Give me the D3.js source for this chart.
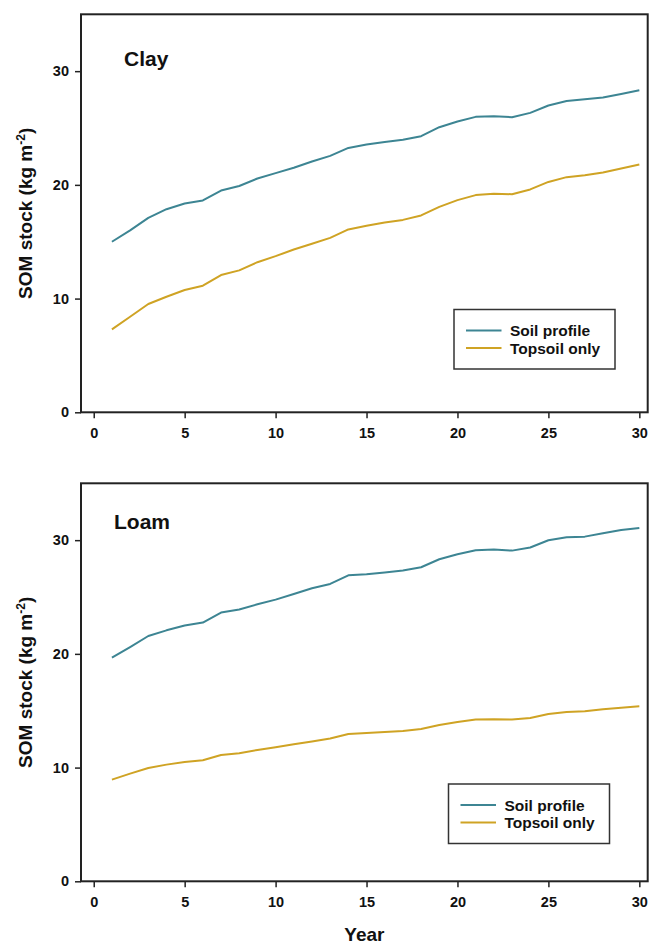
<!DOCTYPE html>
<html>
<head>
<meta charset="utf-8">
<script src="https://cdn.jsdelivr.net/npm/d3@7"></script>
<style>
  body { margin: 0; background: #fff; }
  svg text { font-family: Arial, "Liberation Sans", sans-serif; font-weight: bold; fill: #111; }
</style>
</head>
<body>
<div id="chart"></div>
<script>
// values, year 1..30
const years = d3.range(1, 31);
const claySoilProfile = [15.0, 16.0, 17.1, 17.86, 18.36, 18.63, 19.5, 19.9, 20.56, 21.03,
  21.5, 22.05, 22.55, 23.25, 23.55, 23.78, 23.96, 24.28, 25.07, 25.57,
  25.98, 26.04, 25.95, 26.33, 26.98, 27.38, 27.53, 27.68, 28.0, 28.32];
const clayTopsoil = [7.29, 8.4, 9.52, 10.16, 10.75, 11.13, 12.07, 12.48, 13.2, 13.73,
  14.32, 14.82, 15.34, 16.08, 16.4, 16.7, 16.92, 17.31, 18.07, 18.66,
  19.1, 19.21, 19.18, 19.6, 20.26, 20.68, 20.85, 21.09, 21.44, 21.79];
const loamSoilProfile = [19.67, 20.6, 21.57, 22.07, 22.5, 22.75, 23.63, 23.9, 24.36, 24.77,
  25.27, 25.77, 26.15, 26.91, 27.0, 27.15, 27.33, 27.62, 28.32, 28.76,
  29.11, 29.17, 29.08, 29.35, 29.99, 30.25, 30.31, 30.6, 30.9, 31.07];
const loamTopsoil = [8.94, 9.47, 9.97, 10.26, 10.49, 10.64, 11.11, 11.26, 11.55, 11.79,
  12.05, 12.29, 12.55, 12.96, 13.04, 13.13, 13.22, 13.39, 13.75, 14.01,
  14.22, 14.25, 14.22, 14.36, 14.71, 14.89, 14.95, 15.13, 15.27, 15.39];

const seriesNames = ["Soil profile", "Topsoil only"];
const seriesColors = ["#3d8593", "#cfa324"];
const xTicks = [0, 5, 10, 15, 20, 25, 30];
const yTicks = [0, 10, 20, 30];

const panels = [
  { title: "Clay", top: 14.3, series: [claySoilProfile, clayTopsoil], titleX: 124, titleY: 65.5, legX: 454, legY: 309.5 },
  { title: "Loam", top: 483.3, series: [loamSoilProfile, loamTopsoil], titleX: 114, titleY: 529, legX: 448.5, legY: 784 }
];

const W = 650, H = 946;
const plotLeft = 81, plotRight = 647.7, plotH = 398;

const svg = d3.select("#chart").append("svg")
  .attr("width", W)
  .attr("height", H);

// same x scale for both panels (0 sits a bit inside the frame)
const x = d3.scaleLinear().domain([-0.7, 30.46]).range([plotLeft, plotRight]);

panels.forEach(p => {
  const y = d3.scaleLinear().domain([0, 35]).range([p.top + plotH, p.top]);
  const g = svg.append("g");

  // lines
  const line = d3.line().x((d, i) => x(years[i])).y(d => y(d));
  p.series.forEach((s, k) => {
    g.append("path")
      .datum(s)
      .attr("fill", "none")
      .attr("stroke", seriesColors[k])
      .attr("stroke-width", 2)
      .attr("stroke-linejoin", "round")
      .attr("d", line);
  });

  // frame
  g.append("rect")
    .attr("x", plotLeft).attr("y", p.top)
    .attr("width", plotRight - plotLeft).attr("height", plotH)
    .attr("fill", "none").attr("stroke", "#222").attr("stroke-width", 2);

  // axes
  const yAxis = g.append("g")
    .attr("transform", `translate(${plotLeft},0)`)
    .call(d3.axisLeft(y).tickValues(yTicks).tickSize(6).tickPadding(6));
  const xAxis = g.append("g")
    .attr("transform", `translate(0,${p.top + plotH})`)
    .call(d3.axisBottom(x).tickValues(xTicks).tickSize(6).tickPadding(9));
  [yAxis, xAxis].forEach(a => {
    a.select(".domain").remove();
    a.selectAll(".tick line").attr("stroke", "#222").attr("stroke-width", 1.5);
    a.selectAll(".tick text")
      .attr("fill", "#111")
      .style("font-size", "14.5px")
      .style("font-family", "Arial, 'Liberation Sans', sans-serif")
      .style("font-weight", "bold");
  });

  // panel title
  g.append("text")
    .attr("x", p.titleX).attr("y", p.titleY)
    .style("font-size", "21px")
    .text(p.title);

  // y label
  const yl = g.append("text")
    .attr("transform", `translate(32,${p.top + plotH / 2}) rotate(-90)`)
    .attr("text-anchor", "middle")
    .style("font-size", "19px");
  yl.append("tspan").text("SOM stock (kg m");
  yl.append("tspan").attr("dy", -7).style("font-size", "12px").text("-2");
  yl.append("tspan").attr("dy", 7).text(")");

  // legend
  const leg = g.append("g").attr("transform", `translate(${p.legX},${p.legY})`);
  leg.append("rect")
    .attr("width", 161).attr("height", 59.5)
    .attr("fill", "#fff").attr("stroke", "#333").attr("stroke-width", 1.5);
  seriesNames.forEach((name, k) => {
    const ry = 21 + k * 17.5;
    leg.append("line")
      .attr("x1", 12).attr("x2", 47.5).attr("y1", ry).attr("y2", ry)
      .attr("stroke", seriesColors[k]).attr("stroke-width", 2);
    leg.append("text")
      .attr("x", 56).attr("y", ry + 5.5)
      .style("font-size", "15.5px")
      .text(name);
  });
});

// x label
svg.append("text")
  .attr("x", (plotLeft + plotRight) / 2)
  .attr("y", 941)
  .attr("text-anchor", "middle")
  .style("font-size", "19px")
  .text("Year");
</script>
</body>
</html>
